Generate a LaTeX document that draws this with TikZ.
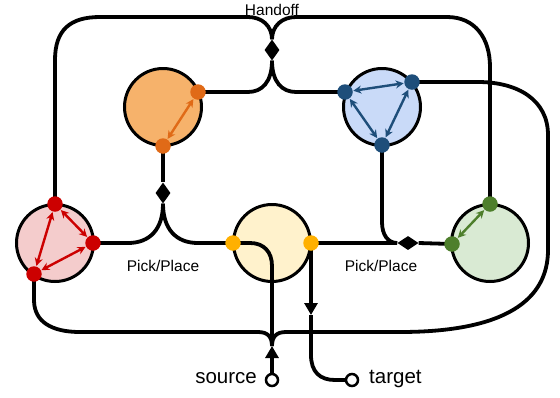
\documentclass[tikz,border=0pt]{standalone}
\usepackage{fontspec}
\setmainfont{Liberation Sans}
\usetikzlibrary{shapes.geometric,arrows.meta}
\pgfdeclarelayer{bg}
\pgfdeclarelayer{fg}
\pgfsetlayers{bg,main,fg}
\definecolor{ofill}{HTML}{F6B26B}
\definecolor{odot}{HTML}{E06A17}
\definecolor{bfill}{HTML}{C9DAF8}
\definecolor{bdot}{HTML}{1E4E7A}
\definecolor{rfill}{HTML}{F4CCCC}
\definecolor{rdot}{HTML}{CC0000}
\definecolor{yfill}{HTML}{FFF2CC}
\definecolor{ydot}{HTML}{FFB000}
\definecolor{gfill}{HTML}{D9EAD3}
\definecolor{gdot}{HTML}{4E7F2C}
\tikzset{
  wire/.style={line width=3.8pt, black},
  bigc/.style={circle, draw=black, line width=3pt, minimum size=77pt, inner sep=0pt},
  pdot/.style={circle, inner sep=0pt, minimum size=15.5pt, fill=#1},
  port/.style={circle, draw=black, line width=2.5pt, fill=white, minimum size=12pt, inner sep=0pt},
  vdia/.style={diamond, fill=black, inner sep=0pt, minimum width=15pt, minimum height=21pt},
  hdia/.style={diamond, fill=black, inner sep=0pt, minimum width=21pt, minimum height=14pt},
  inarr/.style={line width=2.4pt, draw=#1, {Stealth[length=8pt,width=8pt]}-{Stealth[length=8pt,width=8pt]}, shorten <=0.5pt, shorten >=0.5pt},
  lbl/.style={font=\fontsize{15.5}{18}\selectfont, inner sep=0pt},
  plbl/.style={font=\fontsize{20.5}{24}\selectfont, inner sep=0pt},
  tri/.style={-{Triangle[width=13pt,length=12pt]}}
}
\begin{document}
\begin{tikzpicture}[x=1pt,y=-1pt]
\useasboundingbox (0,0) rectangle (560,397);
% big circles
\begin{pgfonlayer}{bg}
\node[bigc, fill=ofill] (oc) at (163,107) {};
\node[bigc, fill=bfill] (bc) at (382,107) {};
\node[bigc, fill=rfill] (rc) at (55,243) {};
\node[bigc, fill=yfill] (yc) at (272,243) {};
\node[bigc, fill=gfill] (gc) at (490,243) {};
\end{pgfonlayer}
% dots
\begin{pgfonlayer}{fg}
\node[pdot=odot] (o1) at (198,92) {};
\node[pdot=odot] (o2) at (163,146) {};
\node[pdot=bdot] (b1) at (345,92) {};
\node[pdot=bdot] (b2) at (412,82) {};
\node[pdot=bdot] (b3) at (382,145) {};
\node[pdot=rdot] (r1) at (55,204) {};
\node[pdot=rdot] (r2) at (93,243) {};
\node[pdot=rdot] (r3) at (34,274) {};
\node[pdot=ydot] (y1) at (233,243) {};
\node[pdot=ydot] (y2) at (311,243) {};
\node[pdot=gdot] (g1) at (490,204) {};
\node[pdot=gdot] (g2) at (452,244) {};
\end{pgfonlayer}
% junction markers and ports
\node[vdia] (hd) at (272,50) {};
\node[vdia] (pd1) at (163,193) {};
\node[hdia] (pd2) at (408,243) {};
\node[port] (src) at (272,380) {};
\node[port] (tgt) at (352,380) {};
\coordinate (sj) at (272,346);
\coordinate (ta) at (311,315);
% labels
\node[lbl, anchor=base] (hlab) at (272,15) {Handoff};
\node[lbl, anchor=base] (pl1) at (163,271) {Pick/Place};
\node[lbl, anchor=base] (pl2) at (381,271) {Pick/Place};
\node[plbl, anchor=mid east] (slab) at (257,381) {source};
\node[plbl, anchor=mid west] (tlab) at (369,381) {target};
% Handoff
\draw[wire] (r1.center) -- (55,60) .. controls (55,30) and (70,17) .. (100,17) -- (248,17) .. controls (262,17) and (272,26) .. (hd.north);
\draw[wire] (hd.north) .. controls (272,26) and (282,17) .. (296,17) -- (447,17) .. controls (475,17) and (490,38) .. (490,67) -- (g1.center);
\draw[wire] (o1.center) -- (248,92) .. controls (262,92) and (272,82) .. (hd.south);
\draw[wire] (hd.south) .. controls (272,82) and (282,92) .. (296,92) -- (b1.center);
% Pick/Place left
\draw[wire] (o2.center) -- (pd1.north);
\draw[wire] (pd1.south) .. controls (163,229) and (150,243) .. (128,243) -- (r2.center);
\draw[wire] (pd1.south) .. controls (163,229) and (176,243) .. (198,243) -- (y1.center);
% Pick/Place right
\draw[wire] (y2.center) -- (pd2.west);
\draw[wire] (pd2.east) -- (g2.center);
\draw[wire] (b3.center) -- (382,222) .. controls (382,235) and (388,243) .. (pd2.west);
% source
\draw[wire, tri] (src) -- (sj);
\draw[wire] (sj) -- (272,266) .. controls (272,252) and (264,243) .. (250,243) -- (y1.center);
\draw[wire] (sj) .. controls (272,337) and (268,332) .. (258,332) -- (80,332) .. controls (52,332) and (34,322) .. (34,300) -- (r3.center);
\draw[wire] (sj) .. controls (272,337) and (276,332) .. (286,332) -- (400,332) .. controls (505,332) and (548,300) .. (548,250) -- (548,135) .. controls (548,100) and (518,82) .. (478,82) -- (b2.center);
% target
\draw[wire, tri] (y2.center) -- (ta);
\draw[wire] (ta) -- (311,355) .. controls (311,372) and (320,380) .. (335,380) -- (tgt);
% internal arrows
\draw[inarr=odot] (o1) -- (o2);
\draw[inarr=rdot] (r1) -- (r2);
\draw[inarr=rdot] (r2) -- (r3);
\draw[inarr=rdot] (r3) -- (r1);
\draw[inarr=bdot] (b1) -- (b2);
\draw[inarr=bdot] (b1) -- (b3);
\draw[inarr=bdot] (b2) -- (b3);
\draw[inarr=gdot] (g1) -- (g2);
\end{tikzpicture}
\end{document}
